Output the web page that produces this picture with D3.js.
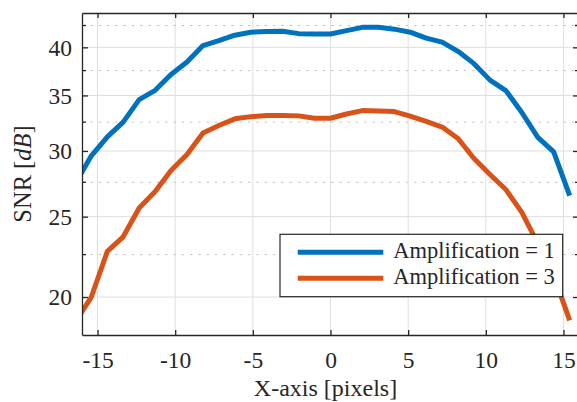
<!DOCTYPE html>
<html>
<head>
<meta charset="utf-8">
<script src="https://d3js.org/d3.v7.min.js"></script>
</head>
<body style="margin:0">
<div id="figure-container"></div>
<script>
// sample positions (pixels) and SNR values in dB
var xPos = [-16.43, -15.4, -14.37, -13.35, -12.32, -11.29, -10.27, -9.24, -8.21, -7.19,
  -6.16, -5.13, -4.11, -3.08, -2.05, -1.03, 0, 1.03, 2.05, 3.08, 4.11, 5.13, 6.16,
  7.19, 8.21, 9.24, 10.27, 11.29, 12.32, 13.35, 14.37, 15.4];
var snrAmp1 = [27.4, 29.6, 31.2, 32.5, 34.6, 35.5, 37.1, 38.4, 40.2, 40.75, 41.37, 41.72,
  41.8, 41.82, 41.55, 41.51, 41.51, 41.9, 42.28, 42.3, 42.07, 41.72, 41.03, 40.58,
  39.56, 38.23, 36.52, 35.47, 33.38, 31.16, 29.92, 26.5];
var snrAmp3 = [18.65, 20.0, 22.7, 23.64, 25.61, 26.81, 28.42, 29.71, 31.53, 32.2, 32.8, 33.0,
  33.1, 33.1, 33.07, 32.85, 32.85, 33.24, 33.56, 33.53, 33.47, 33.05, 32.56, 32.06,
  31.06, 29.38, 28.1, 26.96, 25.3, 23.2, 21.24, 18.75];
var seriesNames = ['Amplification = 1', 'Amplification = 3'];
var xTicks = [-15, -10, -5, 0, 5, 10, 15];
var yTicks = [20, 25, 30, 35, 40];
var yMinor = [22.5, 27.5, 32.5, 37.5, 42.5];

var colors = ['#0072BD', '#D95319'];
var fontName = 'Liberation Serif';
var fullWidth = 577, fullHeight = 402;
var margin = {top: 13, left: 82};
var width = 497, height = 322;
var axisColor = '#262626';

var xScale = d3.scaleLinear().domain([-16, 16]).range([0, width]);
var yScale = d3.scaleLog().domain([18, 44]).range([height, 0]);

var root = d3.select('#figure-container')
  .append('svg')
  .attr('width', fullWidth)
  .attr('height', fullHeight);

var svg = root.append('g')
  .attr('transform', `translate(${margin.left},${margin.top})`);

svg.append('defs').append('clipPath')
  .attr('id', 'clip')
  .append('rect')
  .attr('width', width)
  .attr('height', height);

// grid
var grid = svg.append('g');
grid.selectAll('.vgrid')
  .data(xTicks)
  .enter().append('line')
  .attr('x1', d => xScale(d)).attr('x2', d => xScale(d))
  .attr('y1', 0).attr('y2', height)
  .attr('stroke', '#dedede').attr('stroke-width', 1);
grid.selectAll('.hgrid')
  .data(yTicks)
  .enter().append('line')
  .attr('x1', 0).attr('x2', width)
  .attr('y1', d => yScale(d)).attr('y2', d => yScale(d))
  .attr('stroke', '#dedede').attr('stroke-width', 1);
grid.selectAll('.mgrid')
  .data(yMinor)
  .enter().append('line')
  .attr('x1', 0).attr('x2', width)
  .attr('y1', d => yScale(d)).attr('y2', d => yScale(d))
  .attr('stroke', '#c4c4c4').attr('stroke-width', 1)
  .attr('stroke-dasharray', '2.5,5.8');

// lines
var line = d3.line()
  .x(function(d) { return xScale(d[0]); })
  .y(function(d) { return yScale(d[1]); });

var dataArea = svg.append('g').attr('clip-path', 'url(#clip)');
[snrAmp1, snrAmp3].forEach(function(vals, i) {
  dataArea.append('path')
    .datum(xPos.map((x, j) => [x, vals[j]]))
    .attr('d', line)
    .attr('fill', 'none')
    .attr('stroke', colors[i])
    .attr('stroke-width', 5)
    .attr('stroke-linejoin', 'round');
});

// axes: box with inward ticks
function styleAxis(g) {
  g.attr('font-family', null).attr('font-size', null);
  g.select('.domain').attr('stroke', axisColor).attr('stroke-width', 1.3);
  g.selectAll('.tick line').attr('stroke', axisColor).attr('stroke-width', 1.3);
}
var fmt = d => String(d);   // plain hyphen minus

var gx = svg.append('g')
  .attr('transform', `translate(0,${height})`)
  .call(d3.axisBottom(xScale).tickValues(xTicks).tickSizeInner(-5).tickSizeOuter(0).tickFormat(fmt))
  .call(styleAxis);
gx.selectAll('text').attr('dy', null).attr('y', 33);

var gy = svg.append('g')
  .call(d3.axisLeft(yScale).tickValues(yTicks).tickSizeInner(-6).tickSizeOuter(0).tickFormat(fmt))
  .call(styleAxis);
gy.selectAll('text').attr('x', -10).attr('dy', '0.33em');

svg.append('g')
  .call(d3.axisTop(xScale).tickValues(xTicks).tickSizeInner(-5).tickSizeOuter(0).tickFormat(''))
  .call(styleAxis);
svg.append('g').attr('transform', `translate(${width},0)`)
  .call(d3.axisRight(yScale).tickValues(yTicks).tickSizeInner(-6).tickSizeOuter(0).tickFormat(''))
  .call(styleAxis);

// minor y ticks
[0, width].forEach(function(xx) {
  svg.append('g').selectAll('line')
    .data(yMinor)
    .enter().append('line')
    .attr('x1', xx).attr('x2', xx === 0 ? 4 : width - 4)
    .attr('y1', d => yScale(d)).attr('y2', d => yScale(d))
    .attr('stroke', axisColor).attr('stroke-width', 1.3);
});

// axis labels
svg.append('text')
  .attr('x', xScale(0) - 5).attr('y', height + 61)
  .attr('text-anchor', 'middle')
  .attr('data-size', 24)
  .text('X-axis [pixels]');

var yl = svg.append('text')
  .attr('transform', `translate(${-51},${height / 2}) rotate(-90)`)
  .attr('text-anchor', 'middle')
  .attr('data-size', 24.5);
yl.append('tspan').text('SNR [');
yl.append('tspan').style('font-style', 'italic').text('dB');
yl.append('tspan').text(']');

// legend
var legend = svg.append('g').attr('transform', `translate(${280 - margin.left},${234.3 - margin.top})`);
legend.append('rect')
  .attr('width', 282.7).attr('height', 62.4)
  .attr('fill', '#fff').attr('stroke', axisColor).attr('stroke-width', 1.2);
seriesNames.forEach(function(name, i) {
  var yy = 18 + i * 26;
  legend.append('line')
    .attr('x1', 17.7).attr('x2', 103.3)
    .attr('y1', yy).attr('y2', yy)
    .attr('stroke', colors[i]).attr('stroke-width', 5);
  legend.append('text')
    .attr('x', 113.3).attr('y', yy + 5.5)
    .attr('data-size', 22.5)
    .text(name);
});

// one font for every text element
root.selectAll('text')
  .style('font-family', d => `"${fontName}"`)
  .style('font-size', function() { return (this.getAttribute('data-size') || 23.5) + 'px'; })
  .style('fill', axisColor);
</script>
</body>
</html>
